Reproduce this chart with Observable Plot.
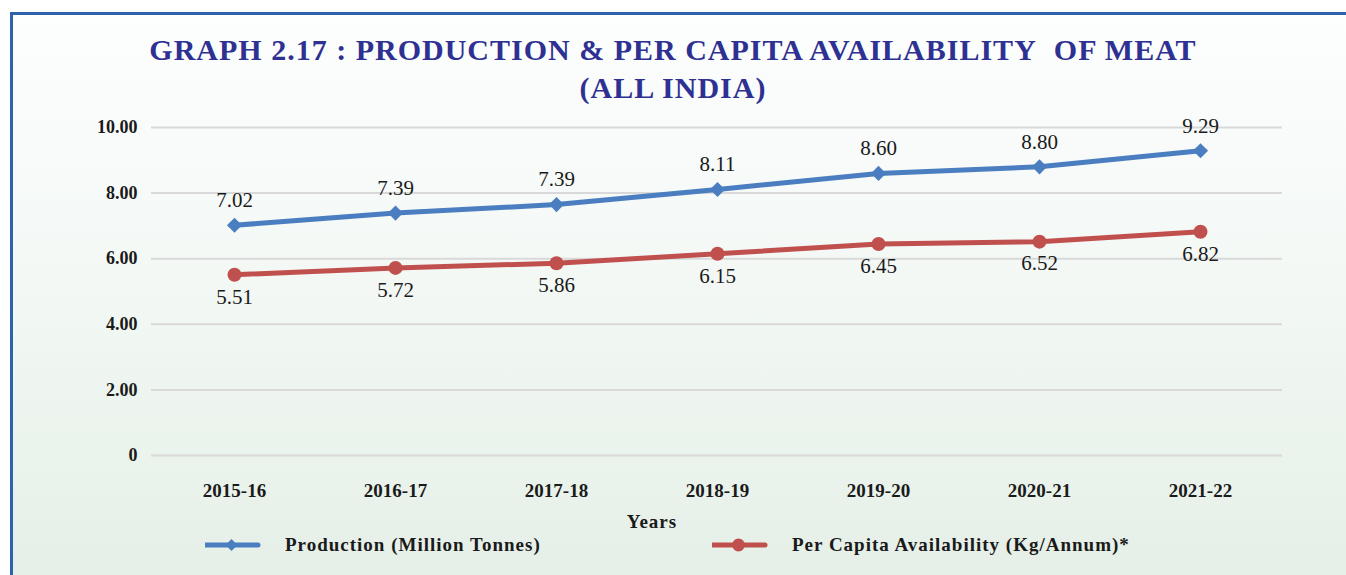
<!DOCTYPE html>
<html>
<head>
<meta charset="utf-8">
<script src="https://cdn.jsdelivr.net/npm/d3@7"></script>
<script src="https://cdn.jsdelivr.net/npm/@observablehq/plot@0.6"></script>
<style>
  html, body { margin: 0; padding: 0; background: #ffffff; width: 1346px; height: 575px; overflow: hidden; }
  #frame {
    position: absolute; left: 10px; top: 12px; width: 1346px; height: 580px;
    border-left: 3px solid #2f62ad; border-top: 3px solid #2f62ad;
    background: linear-gradient(to bottom, #fdfefe 0%, #f3f8f5 45%, #e4efe6 100%);
  }
  .serif { font-family: "Liberation Serif", "DejaVu Serif", serif; }
  #title {
    position: absolute; left: 0; top: 31px; width: 1346px; text-align: center;
    color: #2e3192; font-weight: bold; font-size: 30px; line-height: 38px; letter-spacing: 1px;
  }
  #chart { position: absolute; left: 0; top: 110px; }
  #years { position: absolute; left: 602px; top: 511px; width: 100px; text-align: center; font-weight: bold; font-size: 19px; letter-spacing: 1px; color: #1a1a1a; }
  .leg { position: absolute; top: 533px; height: 24px; display: flex; align-items: center; font-weight: bold; font-size: 19px; letter-spacing: 1px; color: #1a1a1a; white-space: nowrap; }
</style>
</head>
<body>
<div id="frame"></div>
<div id="title" class="serif">GRAPH 2.17 : PRODUCTION &amp; PER CAPITA AVAILABILITY&nbsp; OF MEAT<br>(ALL INDIA)</div>
<div id="chart"></div>
<div id="years" class="serif">Years</div>
<div id="leg1" class="leg serif" style="left:205px"></div>
<div id="leg2" class="leg serif" style="left:712px"></div>
<script>
const years = ["2015-16", "2016-17", "2017-18", "2018-19", "2019-20", "2020-21", "2021-22"];
// plotted positions as drawn in the reference
const production = [7.02, 7.39, 7.65, 8.11, 8.60, 8.80, 9.29];
// printed data labels as shown in the reference
const productionLabels = ["7.02", "7.39", "7.39", "8.11", "8.60", "8.80", "9.29"];
const perCapita = [5.51, 5.72, 5.86, 6.15, 6.45, 6.52, 6.82];
const perCapitaLabels = ["5.51", "5.72", "5.86", "6.15", "6.45", "6.52", "6.82"];
const yTicks = [0, 2, 4, 6, 8, 10];

const blue = "#4a7ec0";
const red = "#c0504d";

const prodData = years.map((y, i) => ({year: y, value: production[i], label: productionLabels[i]}));
const pcData = years.map((y, i) => ({year: y, value: perCapita[i], label: perCapitaLabels[i]}));

const plot = Plot.plot({
  width: 1346,
  height: 395,
  marginLeft: 151,
  marginRight: 64,
  marginTop: 17,
  marginBottom: 50,
  style: {background: "transparent", fontFamily: "'Liberation Serif', serif", color: "#1a1a1a", overflow: "visible"},
  x: {type: "point", domain: years, padding: 0.5, label: null},
  y: {domain: [0, 10], label: null},
  marks: [
    Plot.ruleY(yTicks, {stroke: "#d9d9d9", strokeWidth: 2}),
    Plot.axisY({ticks: yTicks, tickSize: 0, tickPadding: 14, tickFormat: d => d === 0 ? "0" : d.toFixed(2),
      fontSize: 18, fontWeight: "bold", label: null}),
    Plot.axisX({tickSize: 0, tickPadding: 28, fontSize: 19, fontWeight: "bold", label: null}),
    Plot.line(prodData, {x: "year", y: "value", stroke: blue, strokeWidth: 5}),
    Plot.line(pcData, {x: "year", y: "value", stroke: red, strokeWidth: 5}),
    Plot.dot(prodData, {x: "year", y: "value", symbol: "diamond2", r: 6.8, fill: blue, stroke: "none"}),
    Plot.dot(pcData, {x: "year", y: "value", symbol: "circle", r: 7, fill: red, stroke: "none"}),
    Plot.text(prodData, {x: "year", y: "value", text: "label", dy: -25, fontSize: 21, fill: "#1a1a1a"}),
    Plot.text(pcData, {x: "year", y: "value", text: "label", dy: 22, fontSize: 21, fill: "#1a1a1a"})
  ]
});
document.getElementById("chart").appendChild(plot);

function legendSwatch(color, symbol) {
  const s = d3.create("svg").attr("width", 80).attr("height", 24);
  s.append("line").attr("x1", 0).attr("x2", 53).attr("y1", 12).attr("y2", 12)
    .attr("stroke", color).attr("stroke-width", 5).attr("stroke-linecap", "round");
  s.append("path").attr("transform", "translate(26.5,12)")
    .attr("d", d3.symbol(symbol, symbol === d3.symbolDiamond2 ? 90 : 130)()).attr("fill", color);
  return s.node();
}
const l1 = document.getElementById("leg1");
l1.appendChild(legendSwatch(blue, d3.symbolDiamond2));
l1.appendChild(document.createTextNode("Production (Million Tonnes)"));
const l2 = document.getElementById("leg2");
l2.appendChild(legendSwatch(red, d3.symbolCircle));
l2.appendChild(document.createTextNode("Per Capita Availability (Kg/Annum)*"));
</script>
</body>
</html>
